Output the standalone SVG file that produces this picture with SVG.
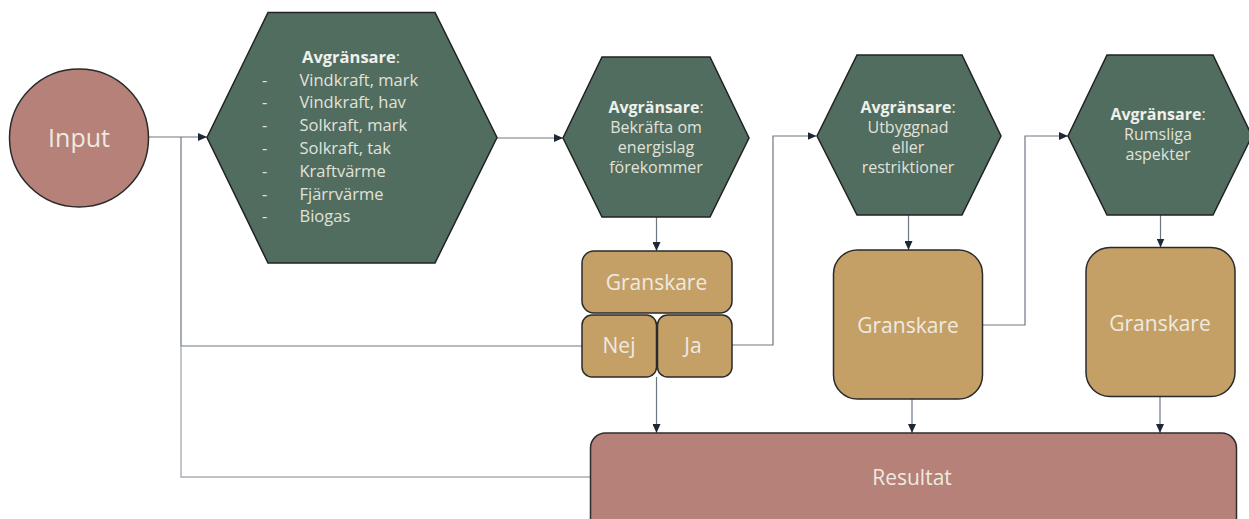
<svg xmlns="http://www.w3.org/2000/svg" width="1249" height="519" viewBox="0 0 1249 519">
<defs>
<marker id="arr" markerWidth="9" markerHeight="8" refX="9" refY="4" orient="auto" markerUnits="userSpaceOnUse">
<path d="M0,0 L9,4 L0,8 Z" fill="#1e2838"/>
</marker>
<style>
.hex{fill:#516d60;stroke:#222;stroke-width:1.5}
.gr{fill:#c4a067;stroke:#2a2a2a;stroke-width:1.5}
.res{fill:#b58178;stroke:#2e2e2e;stroke-width:1.5}
.ht{font-family:"Open Sans","Noto Sans",sans-serif;font-size:16.5px;fill:#e2e2da}
.hs{font-size:16px;text-anchor:middle}
.hb{font-weight:bold;fill:#f0f0ea}
.bt{font-family:"Open Sans","Noto Sans",sans-serif;font-size:21px;fill:#efeae0;text-anchor:middle}
.c{fill:none;stroke:#6f7683;stroke-width:1.2}
.cl{fill:none;stroke:#a9adb4;stroke-width:1.4}
</style>
</defs>
<rect width="1249" height="519" fill="#ffffff"/>

<g id="connectors">
<line class="c" x1="149" y1="137" x2="207" y2="137" marker-end="url(#arr)"/>
<polyline class="c" points="181,137 181,346 582,346"/>
<polyline class="cl" points="181,346 181,477 590,477"/>
<line class="c" x1="497" y1="138" x2="563" y2="138" marker-end="url(#arr)"/>
<line class="c" x1="656.5" y1="217" x2="656.5" y2="251" marker-end="url(#arr)"/>
<polyline class="c" points="732,345 773,345 773,136 816.5,136" marker-end="url(#arr)"/>
<line class="c" x1="656.5" y1="377" x2="656.5" y2="433" marker-end="url(#arr)"/>
<line class="c" x1="908.5" y1="215" x2="908.5" y2="250" marker-end="url(#arr)"/>
<polyline class="c" points="983,325 1025,325 1025,136 1068,136" marker-end="url(#arr)"/>
<line class="c" x1="912" y1="399" x2="912" y2="433" marker-end="url(#arr)"/>
<line class="c" x1="1160.5" y1="215" x2="1160.5" y2="247.5" marker-end="url(#arr)"/>
<line class="c" x1="1160" y1="397" x2="1160" y2="433" marker-end="url(#arr)"/>
</g>

<g id="input">
<ellipse cx="79" cy="138" rx="69.5" ry="69" fill="#b58178" stroke="#2a2a2a" stroke-width="1.5"/>
<text class="bt" x="79" y="147" style="font-size:25px">Input</text>
</g>

<g id="hex1">
<polygon class="hex" points="268,12.5 435,12.5 497,137.5 435,263 268,263 207,137.5"/>
<text class="ht" x="302" y="63"><tspan class="hb">Avgränsare</tspan>:</text>
<text class="ht" x="262" y="85.5">-</text><text class="ht" x="299.5" y="85.5">Vindkraft, mark</text>
<text class="ht" x="262" y="108.3">-</text><text class="ht" x="299.5" y="108.3">Vindkraft, hav</text>
<text class="ht" x="262" y="131.1">-</text><text class="ht" x="299.5" y="131.1">Solkraft, mark</text>
<text class="ht" x="262" y="153.9">-</text><text class="ht" x="299.5" y="153.9">Solkraft, tak</text>
<text class="ht" x="262" y="176.7">-</text><text class="ht" x="299.5" y="176.7">Kraftvärme</text>
<text class="ht" x="262" y="199.5">-</text><text class="ht" x="299.5" y="199.5">Fjärrvärme</text>
<text class="ht" x="262" y="222.3">-</text><text class="ht" x="299.5" y="222.3">Biogas</text>
</g>

<g id="hex2">
<polygon class="hex" points="602,57 710,57 749,138 710,217 602,217 563,138"/>
<text class="ht hs" x="656" y="113"><tspan class="hb">Avgränsare</tspan>:</text>
<text class="ht hs" x="656" y="133">Bekräfta om</text>
<text class="ht hs" x="656" y="153">energislag</text>
<text class="ht hs" x="656" y="173">förekommer</text>
</g>

<g id="hex3">
<polygon class="hex" points="857,55 962,55 1001,136 962,215 857,215 817,136"/>
<text class="ht hs" x="908" y="113"><tspan class="hb">Avgränsare</tspan>:</text>
<text class="ht hs" x="908" y="133">Utbyggnad</text>
<text class="ht hs" x="908" y="153">eller</text>
<text class="ht hs" x="908" y="173">restriktioner</text>
</g>

<g id="hex4">
<polygon class="hex" points="1107,55 1213,55 1252,136 1213,215 1107,215 1068,136"/>
<text class="ht hs" x="1158" y="120"><tspan class="hb">Avgränsare</tspan>:</text>
<text class="ht hs" x="1158" y="140">Rumsliga</text>
<text class="ht hs" x="1158" y="160">aspekter</text>
</g>

<g id="granskare1">
<rect class="gr" x="582" y="251" width="150" height="62" rx="12"/>
<text class="bt" x="656.5" y="290">Granskare</text>
</g>
<g id="nej">
<rect class="gr" x="582" y="315" width="74.5" height="62" rx="10"/>
<text class="bt" x="619" y="353">Nej</text>
</g>
<g id="ja">
<rect class="gr" x="657.5" y="315" width="74.5" height="62" rx="10"/>
<text class="bt" x="693" y="353">Ja</text>
</g>

<g id="granskare2">
<rect class="gr" x="833.5" y="250" width="149" height="149" rx="24"/>
<text class="bt" x="908" y="333">Granskare</text>
</g>

<g id="granskare3">
<rect class="gr" x="1086" y="247.5" width="149" height="149" rx="24"/>
<text class="bt" x="1160" y="331">Granskare</text>
</g>

<g id="resultat">
<rect class="res" x="590.5" y="433" width="646" height="100" rx="15"/>
<text class="bt" x="912" y="485">Resultat</text>
</g>
</svg>
